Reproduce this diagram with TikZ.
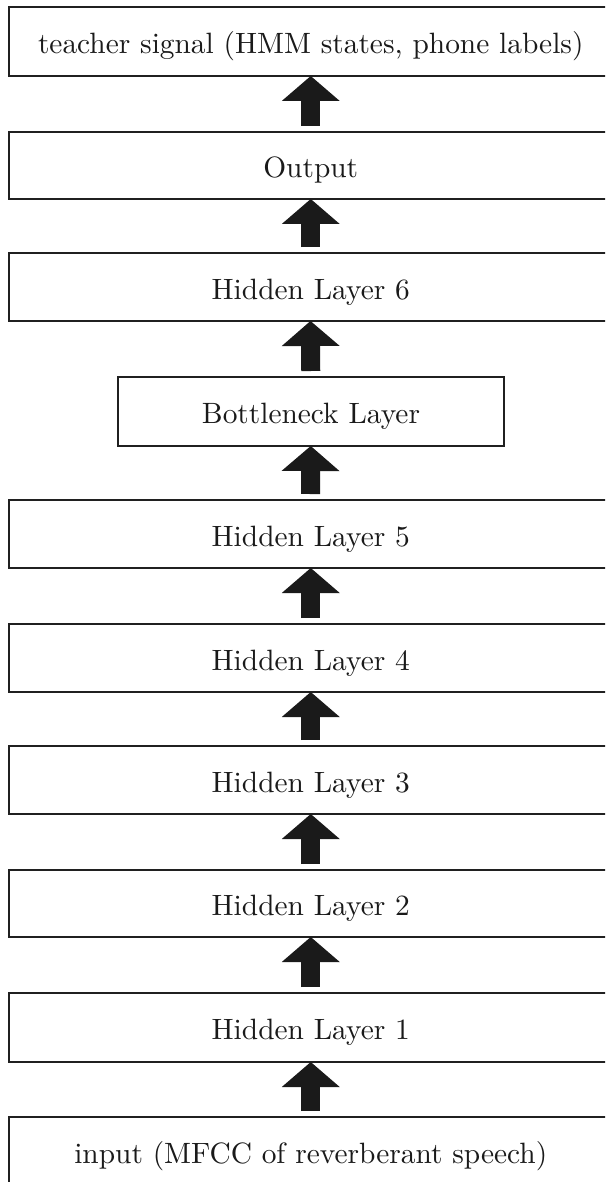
\documentclass[tikz,border=0pt]{standalone}
\usepackage{fontspec}
\setmainfont{lmroman10-regular}[Extension=.otf]
\usetikzlibrary{arrows.meta}
\definecolor{ink}{HTML}{1A1A1A}
\definecolor{edge}{HTML}{202020}
\tikzset{
  layerbox/.style={draw=edge, line width=2pt, rectangle, outer sep=0pt, inner sep=0pt,
    minimum width=604.5pt, text height=27pt, text depth=2.4pt, text=ink,
    font=\fontsize{29.4}{35}\selectfont},
  upflow/.style={draw=ink, line width=19pt,
    -{Triangle[width=58pt, length=25pt, line width=0pt, fill=ink]}}
}
\begin{document}
\begin{tikzpicture}[x=1pt, y=-1pt]
\path[use as bounding box, clip] (0,0) rectangle (605,1182);
\fill[white] (0,0) rectangle (605,1182);
% layer boxes (x centre 310.75; right edges run past the picture edge)
\node[layerbox, minimum height=69.3pt] (teach) at (310.75,41.35) {teacher signal (HMM states, phone labels)};
\node[layerbox, minimum height=67pt]   (out)   at (310.75,165.5) {Output};
\node[layerbox, minimum height=68pt]   (h6)    at (310.75,287) {Hidden Layer 6};
\node[layerbox, minimum height=69pt, minimum width=386pt] (bn) at (311,411.5) {Bottleneck Layer};
\node[layerbox, minimum height=68pt]   (h5)    at (310.75,534) {Hidden Layer 5};
\node[layerbox, minimum height=68pt]   (h4)    at (310.75,658) {Hidden Layer 4};
\node[layerbox, minimum height=68pt]   (h3)    at (310.75,780) {Hidden Layer 3};
\node[layerbox, minimum height=67pt]   (h2)    at (310.75,903.5) {Hidden Layer 2};
\node[layerbox, minimum height=69pt]   (h1)    at (310.75,1027.5) {Hidden Layer 1};
\node[layerbox, minimum height=69pt]   (inp)   at (310.75,1151.5) {input (MFCC of reverberant speech)};
% block arrows between layers
\draw[upflow] ([yshift=6pt]inp.north) -- (h1.south);
\draw[upflow] ([yshift=6pt]h1.north) -- (h2.south);
\draw[upflow] ([yshift=6pt]h2.north) -- (h3.south);
\draw[upflow] ([yshift=6pt]h3.north) -- (h4.south);
\draw[upflow] ([yshift=6pt]h4.north) -- (h5.south);
\draw[upflow] ([yshift=6pt,xshift=-0.25pt]h5.north) -- ([xshift=-0.25pt]bn.south);
\draw[upflow] ([yshift=6pt,xshift=-0.25pt]bn.north) -- ([xshift=-0.25pt]h6.south);
\draw[upflow] ([yshift=6pt]h6.north) -- (out.south);
\draw[upflow] ([yshift=6pt]out.north) -- (teach.south);
\end{tikzpicture}
\end{document}
